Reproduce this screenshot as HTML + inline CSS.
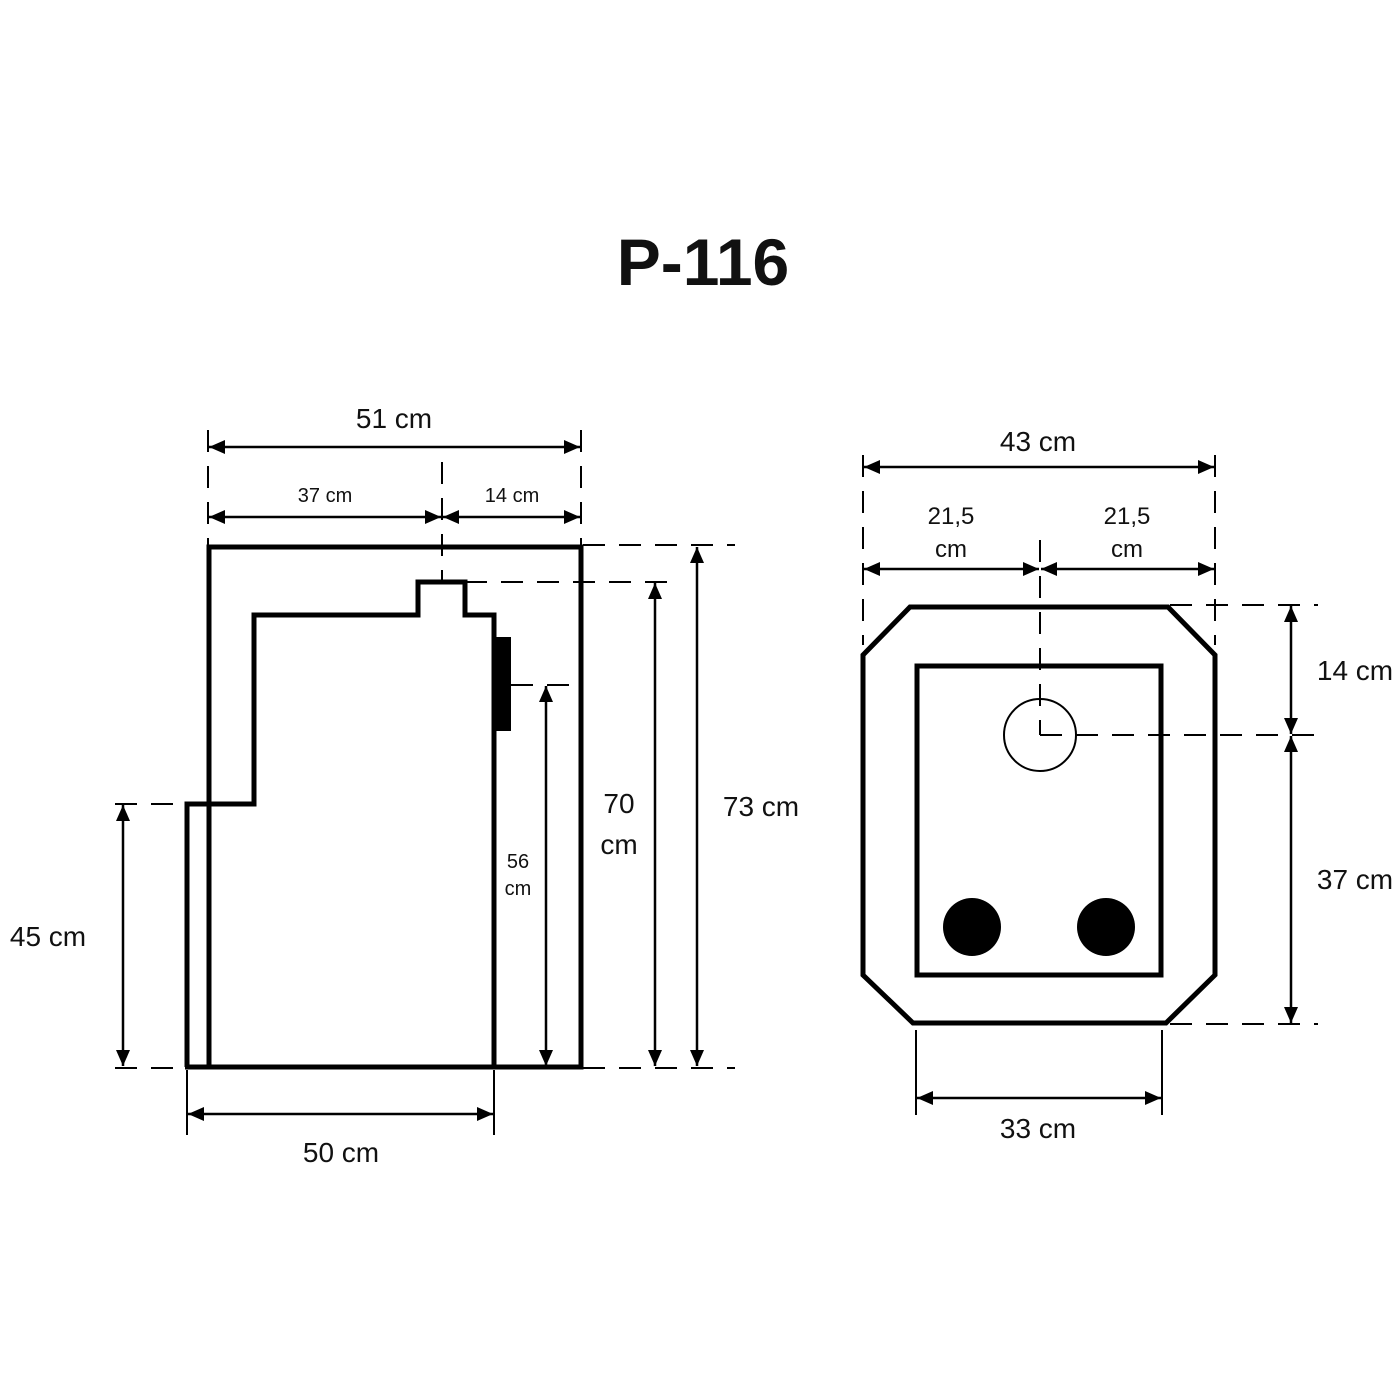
<!DOCTYPE html>
<html><head><meta charset="utf-8"><style>
html,body{margin:0;padding:0;background:#fff;}
svg{display:block;}
text{font-family:"Liberation Sans",sans-serif;fill:#111;}
</style></head><body>
<svg width="1400" height="1400" viewBox="0 0 1400 1400" xmlns="http://www.w3.org/2000/svg">
<defs>
<marker id="a" viewBox="0 0 16 14" refX="16" refY="7" markerWidth="16" markerHeight="14" markerUnits="userSpaceOnUse" orient="auto-start-reverse"><path d="M0,0 L16,7 L0,14 Z" fill="#000"/></marker>
</defs>
<rect width="1400" height="1400" fill="#fff"/>
<text x="703" y="285" font-size="66" font-weight="bold" text-anchor="middle">P-116</text>

<g fill="none" stroke="#000" stroke-width="5" stroke-linejoin="miter">
<rect x="209" y="547" width="372" height="520"/>
<polyline points="187,1067 187,804 254,804 254,615 418,615 418,582 465,582 465,615 494,615 494,1067"/>
<line x1="185" y1="1067" x2="583" y2="1067"/>
</g>
<rect x="494" y="637" width="17" height="94" fill="#000"/>
<g stroke="#000" stroke-width="2" fill="none" stroke-dasharray="22,14">
<line x1="465" y1="582" x2="670" y2="582"/>
<line x1="583" y1="545" x2="735" y2="545"/>
<line x1="511" y1="685" x2="575" y2="685"/>
<line x1="115" y1="804" x2="187" y2="804"/>
<line x1="115" y1="1068" x2="187" y2="1068"/>
<line x1="583" y1="1068" x2="735" y2="1068"/>
<line x1="208" y1="430" x2="208" y2="545"/>
<line x1="581" y1="430" x2="581" y2="545"/>
<line x1="442" y1="462" x2="442" y2="582"/>
</g>
<g stroke="#000" stroke-width="2" fill="none">
<line x1="187" y1="1070" x2="187" y2="1135"/>
<line x1="494" y1="1070" x2="494" y2="1135"/>
</g>
<g stroke="#000" stroke-width="2.5" marker-start="url(#a)" marker-end="url(#a)">
<line x1="209" y1="447" x2="580" y2="447"/>
<line x1="209" y1="517" x2="441" y2="517"/>
<line x1="443" y1="517" x2="580" y2="517"/>
<line x1="697" y1="547" x2="697" y2="1066"/>
<line x1="655" y1="583" x2="655" y2="1066"/>
<line x1="546" y1="686" x2="546" y2="1066"/>
<line x1="123" y1="805" x2="123" y2="1066"/>
<line x1="188" y1="1114" x2="493" y2="1114"/>
</g>
<text x="394" y="428" font-size="28" text-anchor="middle">51 cm</text>
<text x="325" y="502" font-size="20" text-anchor="middle">37 cm</text>
<text x="512" y="502" font-size="20" text-anchor="middle">14 cm</text>
<text x="619" y="813" font-size="28" text-anchor="middle">70</text>
<text x="619" y="854" font-size="28" text-anchor="middle">cm</text>
<text x="761" y="816" font-size="28" text-anchor="middle">73 cm</text>
<text x="518" y="868" font-size="20" text-anchor="middle">56</text>
<text x="518" y="895" font-size="20" text-anchor="middle">cm</text>
<text x="48" y="946" font-size="28" text-anchor="middle">45 cm</text>
<text x="341" y="1162" font-size="28" text-anchor="middle">50 cm</text>

<g fill="none" stroke="#000" stroke-width="5">
<polygon points="910,607 1168,607 1215,655 1215,975 1166,1023 913,1023 863,975 863,655"/>
<rect x="917" y="666" width="244" height="309"/>
</g>
<circle cx="1040" cy="735" r="36" fill="none" stroke="#000" stroke-width="2"/>
<circle cx="972" cy="927" r="29" fill="#000"/>
<circle cx="1106" cy="927" r="29" fill="#000"/>
<g stroke="#000" stroke-width="2" fill="none" stroke-dasharray="22,14">
<line x1="863" y1="455" x2="863" y2="645"/>
<line x1="1215" y1="455" x2="1215" y2="645"/>
<line x1="1040" y1="540" x2="1040" y2="735"/>
<line x1="1170" y1="605" x2="1318" y2="605"/>
<line x1="1040" y1="735" x2="1318" y2="735"/>
<line x1="1170" y1="1024" x2="1318" y2="1024"/>
</g>
<g stroke="#000" stroke-width="2" fill="none">
<line x1="916" y1="1030" x2="916" y2="1115"/>
<line x1="1162" y1="1030" x2="1162" y2="1115"/>
</g>
<g stroke="#000" stroke-width="2.5" marker-start="url(#a)" marker-end="url(#a)">
<line x1="864" y1="467" x2="1214" y2="467"/>
<line x1="864" y1="569" x2="1039" y2="569"/>
<line x1="1041" y1="569" x2="1214" y2="569"/>
<line x1="1291" y1="606" x2="1291" y2="734"/>
<line x1="1291" y1="736" x2="1291" y2="1023"/>
<line x1="917" y1="1098" x2="1161" y2="1098"/>
</g>
<text x="1038" y="451" font-size="28" text-anchor="middle">43 cm</text>
<text x="951" y="524" font-size="24" text-anchor="middle">21,5</text>
<text x="951" y="557" font-size="24" text-anchor="middle">cm</text>
<text x="1127" y="524" font-size="24" text-anchor="middle">21,5</text>
<text x="1127" y="557" font-size="24" text-anchor="middle">cm</text>
<text x="1355" y="680" font-size="28" text-anchor="middle">14 cm</text>
<text x="1355" y="889" font-size="28" text-anchor="middle">37 cm</text>
<text x="1038" y="1138" font-size="28" text-anchor="middle">33 cm</text>
</svg>
</body></html>
